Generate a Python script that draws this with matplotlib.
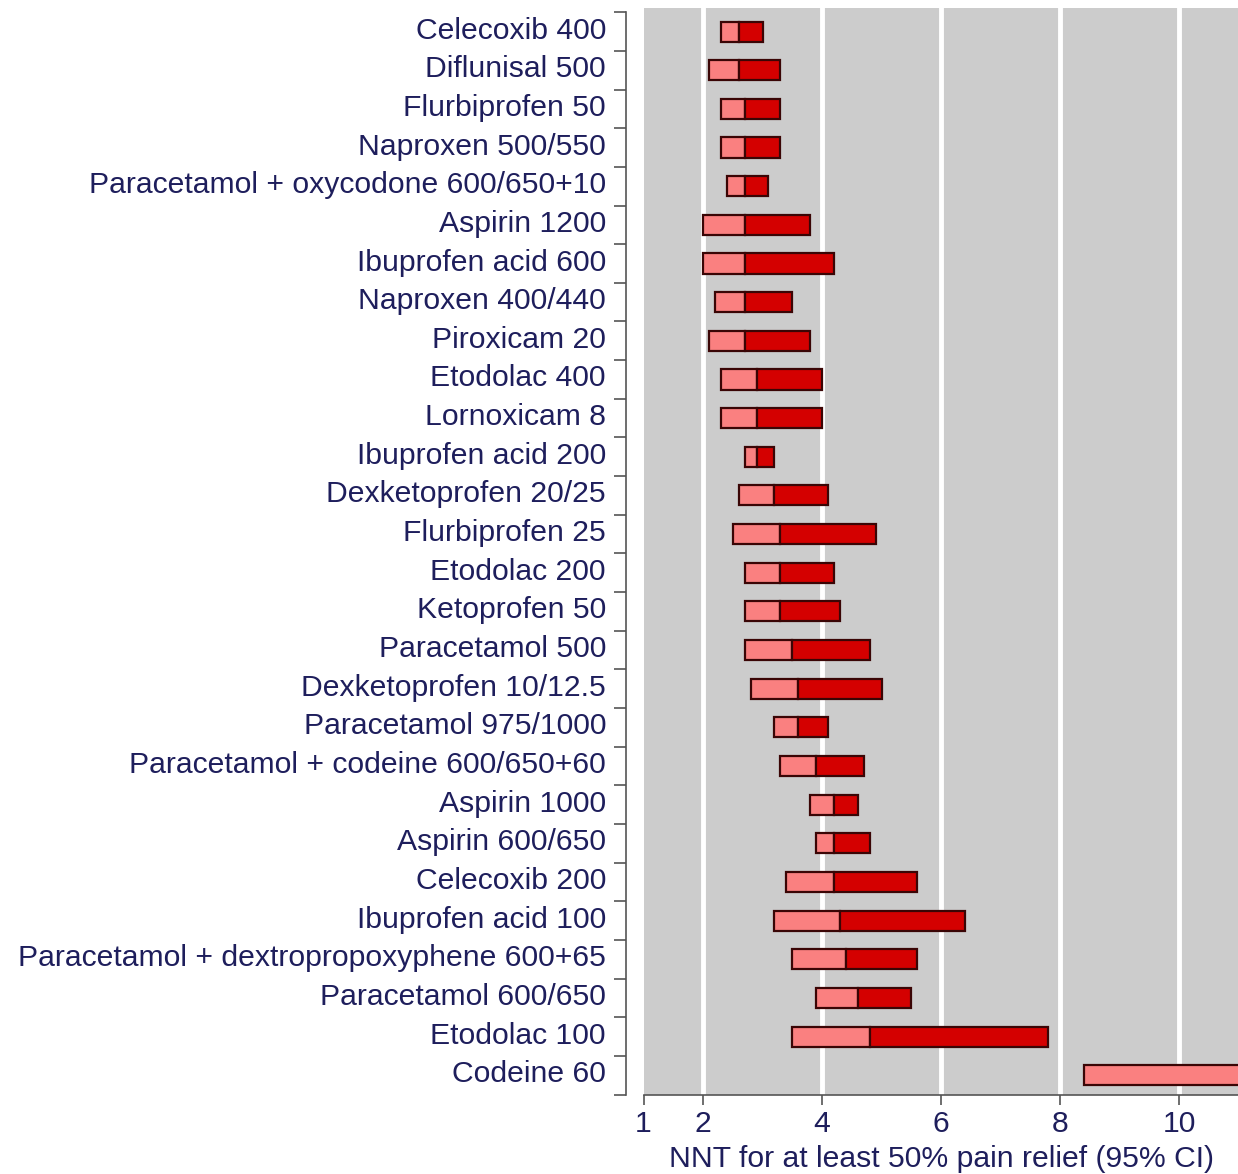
import matplotlib
matplotlib.use("Agg")
import matplotlib.pyplot as plt
from matplotlib.ticker import FixedLocator
from matplotlib.transforms import ScaledTranslation

# Analgesic league table: NNT for at least 50% pain relief with 95% CI
drugs = [
    "Celecoxib 400", "Diflunisal 500", "Flurbiprofen 50", "Naproxen 500/550",
    "Paracetamol + oxycodone 600/650+10", "Aspirin 1200", "Ibuprofen acid 600",
    "Naproxen 400/440", "Piroxicam 20", "Etodolac 400", "Lornoxicam 8",
    "Ibuprofen acid 200", "Dexketoprofen 20/25", "Flurbiprofen 25",
    "Etodolac 200", "Ketoprofen 50", "Paracetamol 500", "Dexketoprofen 10/12.5",
    "Paracetamol 975/1000", "Paracetamol + codeine 600/650+60", "Aspirin 1000",
    "Aspirin 600/650", "Celecoxib 200", "Ibuprofen acid 100",
    "Paracetamol + dextropropoxyphene 600+65", "Paracetamol 600/650",
    "Etodolac 100", "Codeine 60",
]
ci_lower = [2.3, 2.1, 2.3, 2.3, 2.4, 2.0, 2.0, 2.2, 2.1, 2.3, 2.3, 2.7, 2.6, 2.5,
            2.7, 2.7, 2.7, 2.8, 3.2, 3.3, 3.8, 3.9, 3.4, 3.2, 3.5, 3.9, 3.5, 8.4]
nnt = [2.6, 2.6, 2.7, 2.7, 2.7, 2.7, 2.7, 2.7, 2.7, 2.9, 2.9, 2.9, 3.2, 3.3,
       3.3, 3.3, 3.5, 3.6, 3.6, 3.9, 4.2, 4.2, 4.2, 4.3, 4.4, 4.6, 4.8, 16.7]
ci_upper = [3.0, 3.3, 3.3, 3.3, 3.1, 3.8, 4.2, 3.5, 3.8, 4.0, 4.0, 3.2, 4.1, 4.9,
            4.2, 4.3, 4.8, 5.0, 4.1, 4.7, 4.6, 4.8, 5.6, 6.4, 5.6, 5.5, 7.8, 48.0]
x_ticks = [1, 2, 4, 6, 8, 10]
grid_at = [2, 4, 6, 8, 10]

LIGHT = "#fa8080"
DARK = "#d40000"
EDGE = "#3a0505"
TEXT = "#1e1e5c"
BG = "#cccccc"
AXIS = "#555555"
FS = 21.7

plt.rcParams["font.family"] = ["Liberation Sans", "DejaVu Sans"]

W, H, DPI = 1238, 1174, 100
PT = 72 / DPI  # points per pixel
fig = plt.figure(figsize=(W / DPI, H / DPI), dpi=DPI)
left_px, right_px, top_px, bottom_px = 643.5, 1238.5, 8, 1095
ax = fig.add_axes([left_px / W, 1 - bottom_px / H,
                   (right_px - left_px) / W, (bottom_px - top_px) / H])
ax.set_facecolor(BG)

n = len(drugs)
ypos = list(range(n))

# spine set off to the left (done first: repositioning resets the ticks)
ax.spines["left"].set_position(("outward", 17.5 * PT))
ax.spines["left"].set_bounds(-0.5, n - 0.5)
ax.spines["left"].set_color(AXIS)
ax.spines["left"].set_linewidth(1.2)
ax.spines["bottom"].set_color(AXIS)
ax.spines["bottom"].set_linewidth(1.2)
for s in ("top", "right"):
    ax.spines[s].set_visible(False)

for x in grid_at:
    ax.axvline(x, color="white", lw=3.5, zorder=1)

ax.barh(ypos, [m - lo for m, lo in zip(nnt, ci_lower)], left=ci_lower,
        height=0.52, color=LIGHT, edgecolor=EDGE, linewidth=1.6, zorder=3)
ax.barh(ypos, [hi - m for hi, m in zip(ci_upper, nnt)], left=nnt,
        height=0.52, color=DARK, edgecolor=EDGE, linewidth=1.6, zorder=3)

ax.set_xlim(1, 11)
ax.set_ylim(27.51, -0.61)

# y axis: labels on rows, short ticks between rows
ax.set_yticks(ypos)
ax.set_yticklabels(drugs, fontsize=FS, color=TEXT)
ax.yaxis.set_minor_locator(FixedLocator([i - 0.5 for i in range(n + 1)]))
ax.tick_params(axis="y", which="major", length=0, pad=20 * PT)
ax.tick_params(axis="y", which="minor", length=12 * PT, width=1.2, color=AXIS)
lift = ScaledTranslation(0, 4 / DPI, fig.dpi_scale_trans)
for lab in ax.get_yticklabels():
    lab.set_transform(lab.get_transform() + lift)

ax.set_xticks(x_ticks)
ax.set_xticklabels([str(t) for t in x_ticks], fontsize=FS, color=TEXT)
ax.tick_params(axis="x", length=10 * PT, width=1.2, color=AXIS, pad=3.5)
ax.set_xlabel("NNT for at least 50% pain relief (95% CI)", fontsize=FS,
              color=TEXT, labelpad=5)

fig.savefig("out.png", dpi=DPI, facecolor="white")
